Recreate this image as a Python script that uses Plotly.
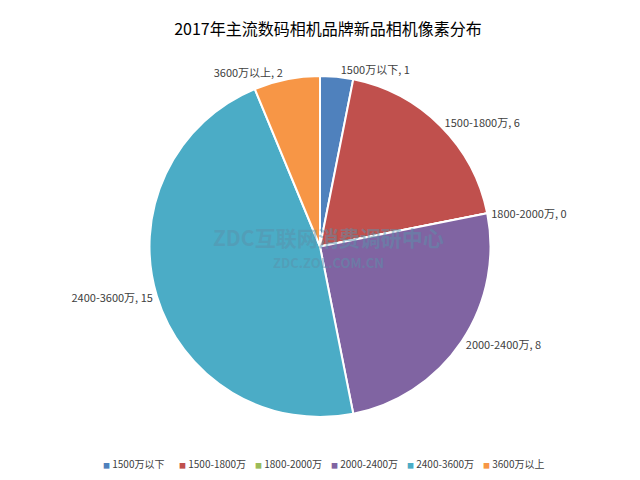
import plotly.graph_objects as go

categories = ["1500万以下", "1500-1800万", "1800-2000万", "2000-2400万", "2400-3600万", "3600万以上"]
values = [1, 6, 0, 8, 15, 2]
colors = ["#4F81BD", "#C0504D", "#9BBB59", "#8064A2", "#4BACC6", "#F79646"]
title_text = "2017年主流数码相机品牌新品相机像素分布"

font_family = "Noto Sans CJK SC, Noto Sans, sans-serif"

fig = go.Figure()
fig.add_trace(go.Pie(
    labels=categories,
    values=values,
    sort=False,
    direction="clockwise",
    rotation=0,
    marker=dict(colors=colors, line=dict(color="white", width=2)),
    texttemplate="%{label}, %{value}",
    textposition="outside",
    textfont=dict(size=11, color="#404040", family=font_family),
    showlegend=False,
    domain=dict(x=[141.5/640, 482.5/640], y=[1-409/480, 1-68/480]),
    hoverinfo="label+value",
))

# legend entries (small coloured squares drawn as text glyphs)
for cat, col in zip(categories, colors):
    fig.add_trace(go.Scatter(
        x=[None], y=[None], mode="markers",
        marker=dict(size=1, color="rgba(0,0,0,0)"),
        name=f'<span style="color:{col};font-size:7px">■</span> {cat}',
        showlegend=True, hoverinfo="skip",
    ))
# spacer entry so the last legend text is not clipped
fig.add_trace(go.Scatter(
    x=[None], y=[None], mode="markers",
    marker=dict(size=1, color="rgba(0,0,0,0)"),
    name=" ", showlegend=True, hoverinfo="skip",
))

fig.update_layout(
    width=640, height=480,
    margin=dict(l=0, r=0, t=0, b=0),
    paper_bgcolor="white",
    plot_bgcolor="white",
    xaxis=dict(visible=False),
    yaxis=dict(visible=False),
    title=dict(text=title_text, x=0.5, y=1-21/480, xanchor="center", yanchor="middle",
               font=dict(size=16, color="#000000", family=font_family)),
    legend=dict(orientation="h", x=55/640, xanchor="left", y=1-456/480, yanchor="middle",
                font=dict(size=10, color="#404040", family=font_family),
                entrywidth=31, entrywidthmode="pixels", traceorder="normal",
                bgcolor="rgba(0,0,0,0)", itemclick=False, itemdoubleclick=False),
    annotations=[
        dict(text="<b>ZDC互联网消费调研中心</b>", x=0.5, y=1-229/480, xref="paper", yref="paper",
             showarrow=False, font=dict(size=21, color="rgba(90,145,170,0.5)", family=font_family)),
        dict(text="<b>ZDC.ZOL.COM.CN</b>", x=0.5, y=1-254/480, xref="paper", yref="paper",
             showarrow=False, font=dict(size=13, color="rgba(90,145,170,0.5)", family=font_family)),
    ],
)

fig.write_html("out.html")
